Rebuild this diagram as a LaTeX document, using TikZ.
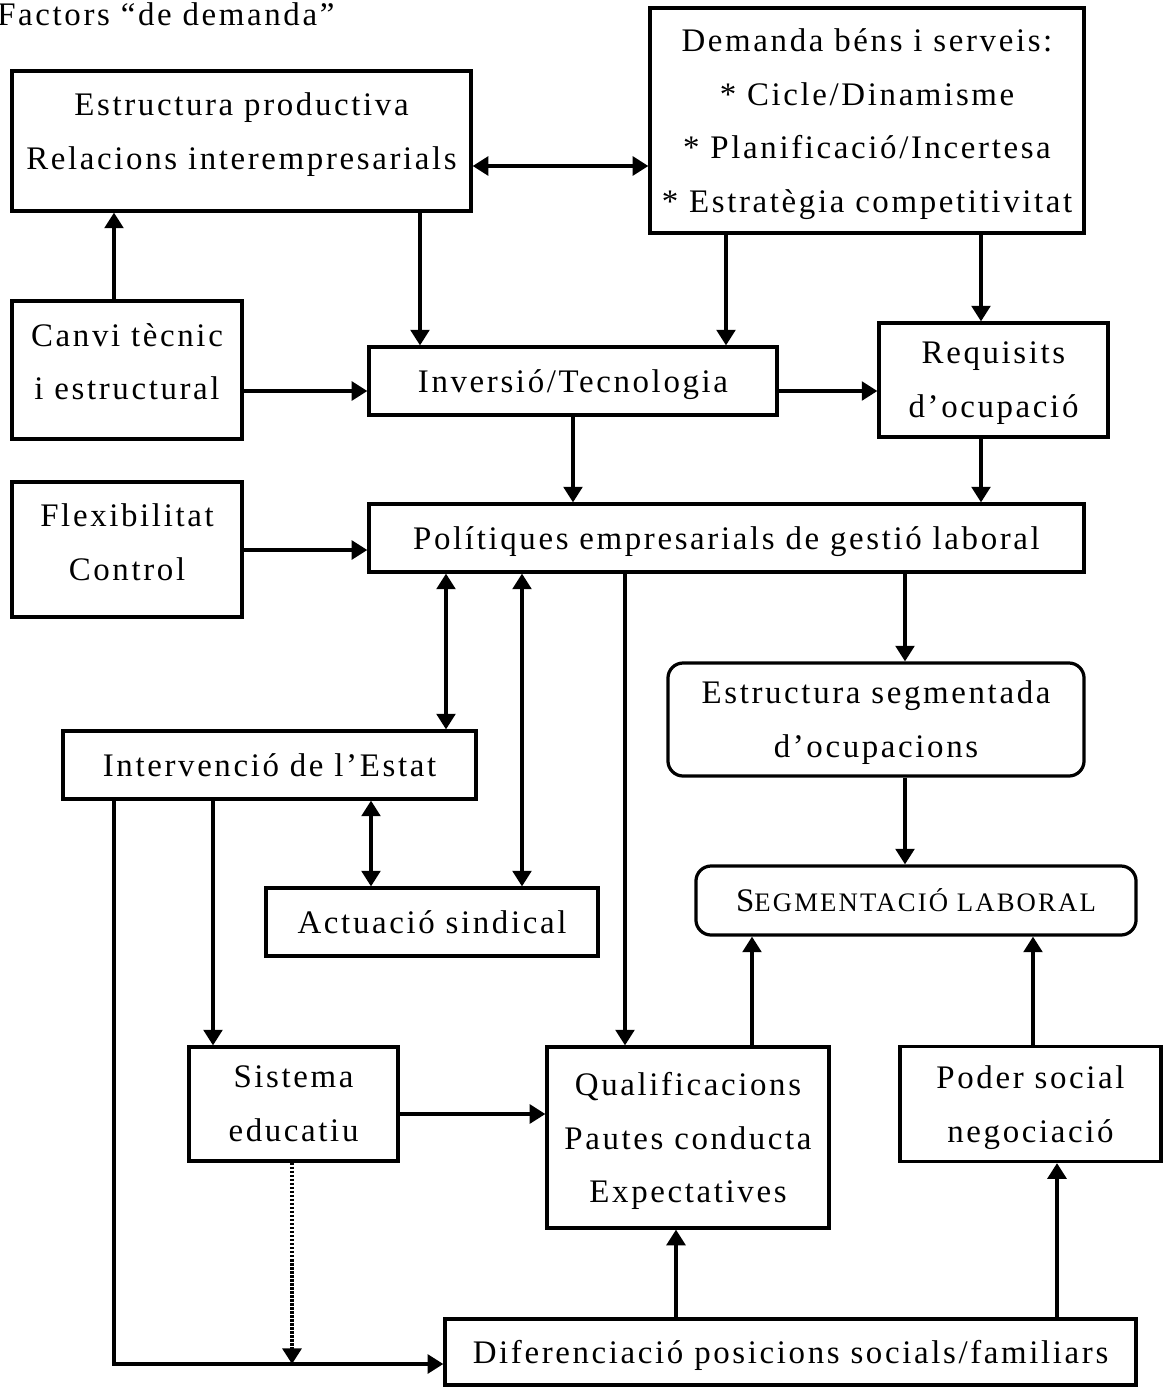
\documentclass[tikz,border=0pt]{standalone}
\usepackage{fontspec}
\setmainfont{Liberation Serif}[LetterSpace=8]
\usetikzlibrary{arrows.meta}

\newcommand\bigtxt{\fontsize{23.4}{38.3}\selectfont}
\newcommand\sctxt{\fontsize{19}{38.3}\selectfont}

\begin{document}
\begin{tikzpicture}[x=0.025cm, y=-0.025cm, line join=miter,
    box/.style={draw, line width=2.3pt, align=center, inner sep=0pt, text depth=0pt, font=\bigtxt},
    rbox/.style={box, rounded corners=0.38cm},
    arr/.style={line width=2.3pt, -{Triangle[length=0.39cm, width=0.47cm]}},
    darr/.style={line width=2.3pt, {Triangle[length=0.39cm, width=0.47cm]}-{Triangle[length=0.39cm, width=0.47cm]}},
    dotarr/.style={arr, line width=2.6pt, dash pattern=on 1.9pt off 0.95pt}]

    \useasboundingbox (0,0) rectangle (1163,1387);

    % titol
    \node[anchor=base west, inner sep=0pt, font=\bigtxt] (titol) at (-3,25) {Factors “de demanda”};

    % caixes de dalt
    \node[box, minimum width=11.475cm, minimum height=3.5cm, text depth=14.7pt] (estr) at (241.5,141)
        {Estructura productiva\\Relacions interempresarials};
    \node[box, minimum width=10.85cm, minimum height=5.625cm] (dem) at (867,120.5)
        {Demanda béns i serveis:\\* Cicle/Dinamisme\\* Planificació/Incertesa\\* Estratègia competitivitat};
    \node[box, minimum width=5.75cm, minimum height=3.45cm, text depth=12pt] (canvi) at (127,370)
        {Canvi tècnic\\i estructural};
    \node[box, minimum width=10.2cm, minimum height=1.7cm] (inv) at (573,381) {Inversió/Tecnologia};
    \node[box, minimum width=5.725cm, minimum height=2.85cm] (req) at (993.5,380)
        {Requisits\\d’ocupació};
    \node[box, minimum width=5.75cm, minimum height=3.375cm, text depth=11pt] (flex) at (127,549.5)
        {Flexibilitat\\Control};
    \node[box, minimum width=17.875cm, minimum height=1.7cm] (pol) at (726.5,538)
        {Polítiques empresarials de gestió laboral};

    % caixes del mig
    \node[rbox, minimum width=10.4cm, minimum height=2.825cm] (segm) at (876,719.5)
        {Estructura segmentada\\d’ocupacions};
    \node[box, minimum width=10.325cm, minimum height=1.7cm] (interv) at (269.5,765)
        {Intervenció de l’Estat};
    \node[box, minimum width=8.3cm, minimum height=1.7cm] (sind) at (432,922) {Actuació sindical};
    \node[rbox, minimum width=11cm, minimum height=1.725cm] (seglab) at (916,900.5)
        {S{\sctxt EGMENTACIÓ LABORAL}};

    % caixes de baix
    \node[box, minimum width=5.225cm, minimum height=2.85cm] (sist) at (293.5,1104)
        {Sistema\\educatiu};
    \node[box, minimum width=7.05cm, minimum height=4.525cm] (qual) at (688,1137.5)
        {Qualificacions\\Pautes conducta\\Expectatives};
    \node[box, minimum width=6.525cm, minimum height=2.875cm] (poder) at (1030.5,1104)
        {Poder social\\negociació};
    \node[box, minimum width=17.275cm, minimum height=1.65cm] (dif) at (790.5,1352)
        {Diferenciació posicions socials/familiars};

    % fletxes cap avall
    \foreach \a/\b/\x in {estr/inv/420, dem/inv/726, dem/req/981, inv/pol/573, req/pol/981,
                          pol/segm/905, segm/seglab/905, interv/sist/213, pol/qual/625} {
        \draw[arr] (\a.south -| \x,0) -- (\b.north -| \x,0);
    }
    % fletxes cap amunt
    \foreach \a/\b/\x in {canvi/estr/114, qual/seglab/752, poder/seglab/1033, dif/qual/676, dif/poder/1057} {
        \draw[arr] (\a.north -| \x,0) -- (\b.south -| \x,0);
    }
    % fletxes horitzontals
    \foreach \a/\b/\y in {canvi/inv/391, inv/req/391, flex/pol/550, sist/qual/1114} {
        \draw[arr] (\a.east |- 0,\y) -- (\b.west |- 0,\y);
    }

    % dobles
    \draw[darr] (estr.east |- 0,166) -- (dem.west |- 0,166);
    \foreach \a/\b/\x in {pol/interv/446, pol/sind/522, interv/sind/371} {
        \draw[darr] (\a.south -| \x,0) -- (\b.north -| \x,0);
    }

    % Estat cap a posicions socials
    \draw[arr] (interv.south -| 114,0) |- (dif.west |- 0,1364);
    \coordinate (unio) at (292,1364);
    \draw[dotarr] (sist.south -| unio) -- (unio);
\end{tikzpicture}
\end{document}
